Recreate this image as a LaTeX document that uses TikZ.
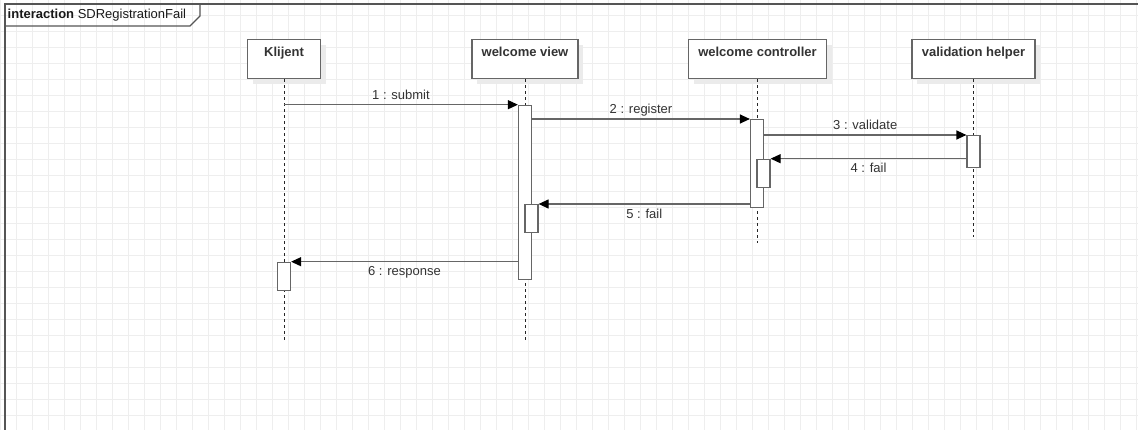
\documentclass[tikz,border=0pt]{standalone}
\usepackage{fontspec}
\setmainfont{Liberation Sans}
\usetikzlibrary{arrows.meta,calc,shadows}
\definecolor{gridc}{HTML}{EEEEEE}
\definecolor{linec}{HTML}{666666}
\definecolor{framec}{HTML}{555555}
\definecolor{txtc}{HTML}{333333}
\definecolor{shadowc}{HTML}{EBEBEB}
\begin{document}
\begin{tikzpicture}[x=1pt,y=-1pt,
  lifebox/.style={draw=linec, line width=1.2pt, fill=white,
    general shadow={fill=shadowc, shadow xshift=5pt, shadow yshift=-5pt},
    font=\bfseries\fontsize{13}{15}\selectfont, text=txtc,
    inner xsep=0pt, inner ysep=0pt, text height=16.7pt, text depth=22.3pt, anchor=north},
  lifeline/.style={draw=black!85, line width=0.9pt, dash pattern=on 3pt off 3pt},
  act/.style={draw=linec, line width=1.2pt, fill=white, minimum width=13pt, inner sep=0pt, anchor=north},
  msg/.style={draw=linec, line width=1.2pt, -{Triangle[length=10pt,width=9pt,black]}},
  labup/.style={midway, anchor=base, yshift=5.3pt, inner sep=0pt, text=txtc, font=\fontsize{13}{15}\selectfont},
  labdown/.style={midway, anchor=base, yshift=-14.3pt, inner sep=0pt, text=txtc, font=\fontsize{13}{15}\selectfont}
]
\useasboundingbox (0,0) rectangle (1138,430);
\fill[white] (0,0) rectangle (1138,430);
% grid
\foreach \x in {0,16,...,1136} \draw[gridc, line width=1pt] (\x+0.5,0) -- (\x+0.5,430);
\foreach \y in {0,16,...,432} \draw[gridc, line width=1pt] (0,\y-0.5) -- (1138,\y-0.5);
% frame
\draw[framec, line width=1.2pt] (5,430) -- (5,4) -- (1138,4);
\draw[framec, line width=1.2pt] (5,26) -- (190,26) -- (200,16) -- (200,4);
\node[anchor=base west, inner sep=0pt, font=\fontsize{13}{15}\selectfont, text=black!90] (title) at (7.5,18.6) {\textbf{interaction} SDRegistrationFail};
% lifeline heads
\node[lifebox, minimum width=73pt] (kl) at (284,39) {Klijent};
\node[lifebox, minimum width=106pt] (vw) at (525,39) {welcome view};
\node[lifebox, minimum width=138pt] (ct) at (757.5,39) {welcome controller};
\node[lifebox, minimum width=123pt] (vh) at (973.5,39) {validation helper};
% lifeline ends
\coordinate (klend) at (284,340);
\coordinate (vwend) at (525,340);
\coordinate (ctend) at (757.5,243);
\coordinate (vhend) at (973.5,237);
\draw[lifeline] (kl.south) -- (klend);
\draw[lifeline] (vw.south) -- (vwend);
\draw[lifeline] (ct.south) -- (ctend);
\draw[lifeline] (vh.south) -- (vhend);
% activations
\node[act, minimum height=174.6pt] (va) at (525,104.7) {};
\node[act, minimum height=28.3pt] (vn) at (531.5,204) {};
\node[act, minimum height=87.7pt] (ca) at (757,119) {};
\node[act, minimum height=28.3pt] (cn) at (763.5,158.7) {};
\node[act, minimum height=32pt] (ha) at (973.5,135) {};
\node[act, minimum height=28.3pt] (kn) at (284,261.7) {};
% messages
\draw[msg] (kl.south |- va.north) -- node[labup] (m1) {1 : submit} (va.north west);
\draw[msg] (va.east |- ca.north) -- node[labup] (m2) {2 : register} (ca.north west);
\draw[msg] (ca.east |- ha.north) -- node[labup] (m3) {3 : validate} (ha.north west);
\draw[msg] (ha.west |- cn.north) -- node[labdown] (m4) {4 : fail} (cn.north east);
\draw[msg] (ca.west |- vn.north) -- node[labdown] (m5) {5 : fail} (vn.north east);
\draw[msg] (va.west |- kn.north) -- node[labdown] (m6) {6 : response} (kn.north east);
\end{tikzpicture}
\end{document}
